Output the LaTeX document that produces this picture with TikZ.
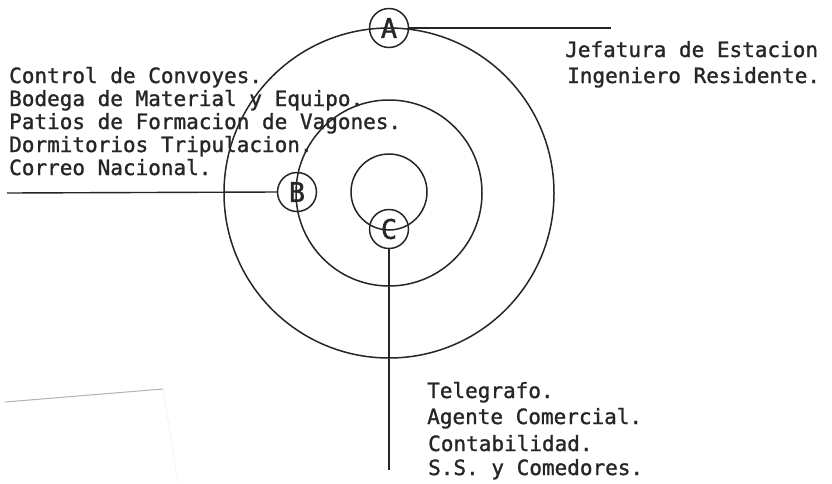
\documentclass[tikz,border=0pt]{standalone}
\usepackage{fontspec}
\newfontfamily\cadfont[FakeBold=1.2]{DejaVu Sans Mono}
\begin{document}
\begin{tikzpicture}[x=1pt,y=-1pt,
  ring/.style={draw=black!85,line width=1.5pt},
  tag/.style={circle,draw=black!85,line width=1.5pt,minimum size=39pt,inner sep=0pt,text=black!85,font=\cadfont\fontsize{27}{27}\selectfont},
  lead/.style={draw=black!85,line width=1.4pt},
  lbl/.style={anchor=base west,inner sep=0pt,text=black!85,font=\cadfont\fontsize{21}{21}\selectfont}
]
\useasboundingbox (0,0) rectangle (832,483);
\fill[white] (0,0) rectangle (832,483);
% concentric rings
\coordinate (O) at (389,193);
\draw[ring] (O) circle[radius=165];
\draw[ring] (O) circle[radius=93];
\draw[ring] (389,192) circle[radius=38];
% tags
\node[tag] (A) at (389,28) {A};
\node[tag] (B) at (297,192) {B};
\node[tag] (C) at (389,229) {C};
% leader lines
\coordinate (Aend) at (611,28);
\coordinate (Bend) at (7,193);
\coordinate (Cend) at (389,470);
\draw[lead] (A.east) -- (Aend);
\draw[lead] (B.west) -- (Bend);
\draw[lead] (C.south) -- (Cend);
% left labels
\node[lbl] (l1) at (9,83) {Control de Convoyes.};
\node[lbl] (l2) at (9,106) {Bodega de Material y Equipo.};
\node[lbl] (l3) at (9,129) {Patios de Formacion de Vagones.};
\node[lbl] (l4) at (9,152) {Dormitorios Tripulacion.};
\node[lbl] (l5) at (9,175) {Correo Nacional.};
% right labels
\node[lbl] (r1) at (565,57) {Jefatura de Estacion};
\node[lbl] (r2) at (567,83) {Ingeniero Residente.};
% bottom labels
\node[lbl] (b1) at (427,398) {Telegrafo.};
\node[lbl] (b2) at (427,424) {Agente Comercial.};
\node[lbl] (b3) at (428,451) {Contabilidad.};
\node[lbl] (b4) at (428,475) {S.S. y Comedores.};
% scan artefact
\draw[gray!60,line width=1pt] (5,402) -- (163,389);
\draw[gray!15,line width=0.4pt] (163,389) -- (178,483);
\end{tikzpicture}
\end{document}
